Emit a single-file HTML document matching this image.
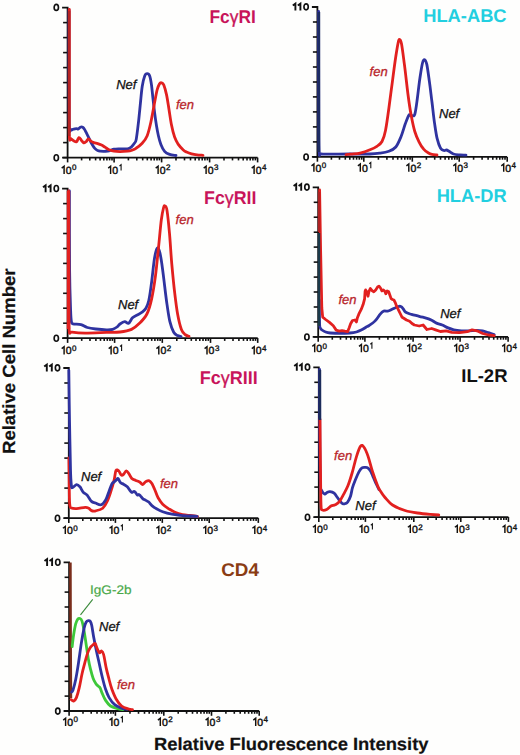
<!DOCTYPE html>
<html><head><meta charset="utf-8">
<style>
html,body{margin:0;padding:0;background:#fefefd;}
body{width:520px;height:755px;overflow:hidden;}
svg{display:block;}
.ax{fill:none;stroke:#111;stroke-width:1.8;}
.tk{fill:none;stroke:#111;stroke-width:1.6;}
text{font-family:"Liberation Sans", sans-serif;text-rendering:geometricPrecision;}
.xl{font-size:10.5px;fill:#111;stroke:#111;stroke-width:0.45px;}
.sup{font-size:8px;stroke-width:0.35px;}
.one{fill:none;stroke:#111;stroke-linejoin:miter;}
.yl{font-size:10.6px;font-weight:bold;fill:#111;text-anchor:end;stroke:#111;stroke-width:0.35px;}
.it{font-size:13px;font-style:italic;stroke-width:0.3px;}
.itn{font-size:12.5px;stroke-width:0.2px;}
.ti{font-size:18.4px;font-weight:bold;text-anchor:end;stroke-width:0px;}
.gam{font-weight:normal;stroke-width:0.3px;}
.big{font-size:17.6px;font-weight:bold;fill:#111;stroke:#111;stroke-width:0.2px;}
</style></head><body>
<svg width="520" height="755" viewBox="0 0 520 755">
<path d="M62.1 7.6H67.6V157.6" class="ax"/>
<path d="M63.1 22.6H67.6" class="tk"/>
<path d="M63.1 37.6H67.6" class="tk"/>
<path d="M63.1 52.6H67.6" class="tk"/>
<path d="M63.1 67.6H67.6" class="tk"/>
<path d="M63.1 82.6H67.6" class="tk"/>
<path d="M63.1 97.6H67.6" class="tk"/>
<path d="M63.1 112.6H67.6" class="tk"/>
<path d="M63.1 127.6H67.6" class="tk"/>
<path d="M63.1 142.6H67.6" class="tk"/>
<path d="M63.1 157.6H67.6" class="tk"/>
<path d="M62.1 157.6H257.6" class="ax"/>
<path d="M67.6 157.6V162.4" class="tk"/>
<path d="M81.6 157.6V160.4" class="tk"/>
<path d="M89.8 157.6V160.4" class="tk"/>
<path d="M95.6 157.6V160.4" class="tk"/>
<path d="M100.1 157.6V160.4" class="tk"/>
<path d="M103.8 157.6V160.4" class="tk"/>
<path d="M106.9 157.6V160.4" class="tk"/>
<path d="M109.6 157.6V160.4" class="tk"/>
<path d="M112.0 157.6V160.4" class="tk"/>
<path d="M61.70 168.10L64.10 166.20V173.90" class="one" stroke-width="1.45"/>
<text x="65.70" y="173.90" class="xl">0</text>
<text x="72.00" y="170.40" class="xl sup">0</text>
<path d="M114.1 157.6V162.4" class="tk"/>
<path d="M128.4 157.6V160.4" class="tk"/>
<path d="M136.8 157.6V160.4" class="tk"/>
<path d="M142.7 157.6V160.4" class="tk"/>
<path d="M147.3 157.6V160.4" class="tk"/>
<path d="M151.1 157.6V160.4" class="tk"/>
<path d="M154.2 157.6V160.4" class="tk"/>
<path d="M157.0 157.6V160.4" class="tk"/>
<path d="M159.4 157.6V160.4" class="tk"/>
<path d="M108.20 168.10L110.60 166.20V173.90" class="one" stroke-width="1.45"/>
<text x="112.20" y="173.90" class="xl">0</text>
<path d="M119.50 166.00L121.10 164.70V170.40" class="one" stroke-width="1.10"/>
<path d="M161.6 157.6V162.4" class="tk"/>
<path d="M176.0 157.6V160.4" class="tk"/>
<path d="M184.5 157.6V160.4" class="tk"/>
<path d="M190.5 157.6V160.4" class="tk"/>
<path d="M195.2 157.6V160.4" class="tk"/>
<path d="M199.0 157.6V160.4" class="tk"/>
<path d="M202.2 157.6V160.4" class="tk"/>
<path d="M204.9 157.6V160.4" class="tk"/>
<path d="M207.4 157.6V160.4" class="tk"/>
<path d="M155.70 168.10L158.10 166.20V173.90" class="one" stroke-width="1.45"/>
<text x="159.70" y="173.90" class="xl">0</text>
<text x="166.00" y="170.40" class="xl sup">2</text>
<path d="M209.6 157.6V162.4" class="tk"/>
<path d="M224.0 157.6V160.4" class="tk"/>
<path d="M232.5 157.6V160.4" class="tk"/>
<path d="M238.5 157.6V160.4" class="tk"/>
<path d="M243.2 157.6V160.4" class="tk"/>
<path d="M247.0 157.6V160.4" class="tk"/>
<path d="M250.2 157.6V160.4" class="tk"/>
<path d="M252.9 157.6V160.4" class="tk"/>
<path d="M255.4 157.6V160.4" class="tk"/>
<path d="M203.70 168.10L206.10 166.20V173.90" class="one" stroke-width="1.45"/>
<text x="207.70" y="173.90" class="xl">0</text>
<text x="214.00" y="170.40" class="xl sup">3</text>
<path d="M257.6 157.6V162.4" class="tk"/>
<path d="M251.70 168.10L254.10 166.20V173.90" class="one" stroke-width="1.45"/>
<text x="255.70" y="173.90" class="xl">0</text>
<text x="262.00" y="170.40" class="xl sup">4</text>
<ellipse cx="56.30" cy="7.40" rx="2.15" ry="3.0" fill="none" stroke="#111" stroke-width="1.65"/>
<ellipse cx="56.30" cy="157.70" rx="2.15" ry="3.0" fill="none" stroke="#111" stroke-width="1.65"/>
<path d="M69.0 10.0C69.0 28.3 68.9 100.1 69.2 120.0C69.5 139.9 70.0 127.9 70.7 129.4C71.4 130.9 72.6 129.2 73.6 129.1C74.6 129.0 75.7 128.7 76.5 128.7C77.3 128.7 77.8 129.2 78.4 129.0C79.0 128.8 79.6 127.5 80.3 127.2C81.0 126.9 82.0 126.8 82.7 127.2C83.4 127.6 84.0 128.4 84.7 129.6C85.4 130.8 86.3 132.8 87.1 134.4C87.9 136.0 88.7 137.6 89.5 139.2C90.3 140.8 91.0 142.5 91.9 144.0C92.8 145.5 93.8 147.3 94.8 148.4C95.8 149.5 96.8 150.1 97.7 150.6C98.7 151.1 99.4 151.1 100.5 151.2C101.6 151.3 103.0 151.4 104.4 151.3C105.9 151.2 107.6 151.2 109.2 150.8C110.8 150.5 112.2 149.5 114.0 149.2C115.8 148.9 117.8 148.9 120.0 148.8C122.2 148.7 125.6 149.1 127.5 148.8C129.4 148.5 130.4 147.7 131.5 146.8C132.6 145.9 133.4 144.7 134.2 143.5C135.0 142.3 135.5 143.1 136.2 139.5C136.9 135.9 137.8 128.0 138.5 122.0C139.2 116.0 139.8 109.2 140.4 103.3C141.0 97.4 141.5 91.0 142.2 86.5C142.9 82.0 143.9 78.1 144.7 76.0C145.5 73.9 146.4 73.7 147.2 73.7C148.0 73.7 149.0 74.1 149.7 76.0C150.4 77.9 151.0 81.5 151.5 85.0C152.0 88.5 152.3 92.3 152.8 97.0C153.3 101.7 154.1 108.5 154.7 113.3C155.3 118.1 155.9 122.0 156.5 125.7C157.1 129.4 157.7 132.6 158.4 135.7C159.1 138.8 159.9 141.8 160.9 144.4C161.9 147.0 163.2 149.6 164.6 151.3C166.0 153.0 167.7 153.7 169.6 154.4C171.5 155.1 174.9 155.3 176.0 155.5" fill="none" stroke="#2f33a0" stroke-width="2.8" stroke-linejoin="round" stroke-linecap="round"/>
<path d="M69.3 9.5C69.3 24.6 69.3 78.8 69.3 100.0C69.3 121.2 69.1 130.5 69.4 137.0C69.7 143.5 70.5 138.1 71.2 138.8C71.9 139.4 72.7 140.2 73.6 140.7C74.5 141.2 75.6 142.3 76.5 141.8C77.4 141.3 78.1 137.9 78.9 137.6C79.7 137.3 80.5 139.3 81.3 140.2C82.1 141.1 82.9 142.6 83.7 142.8C84.5 143.0 85.3 142.2 86.1 141.6C86.9 140.9 87.7 139.0 88.5 138.9C89.3 138.8 90.0 140.6 90.9 141.2C91.8 141.8 92.7 142.2 93.8 142.6C94.9 143.0 96.4 143.2 97.7 143.6C99.0 144.0 100.2 144.4 101.5 145.0C102.8 145.6 104.0 146.6 105.3 147.4C106.6 148.2 107.8 149.2 109.2 149.8C110.7 150.4 112.2 150.9 114.0 151.2C115.8 151.5 117.8 151.6 120.0 151.6C122.2 151.6 125.5 151.4 127.5 151.2C129.5 151.0 130.6 150.7 132.0 150.2C133.4 149.7 134.3 149.5 136.0 148.3C137.7 147.2 140.3 145.4 142.2 143.3C144.1 141.2 145.8 139.2 147.2 135.7C148.6 132.1 149.8 127.0 150.9 122.0C152.0 117.0 153.0 111.1 154.0 105.8C155.0 100.5 156.2 93.6 157.1 90.0C158.0 86.4 158.7 85.2 159.4 84.0C160.1 82.8 160.8 82.6 161.5 82.8C162.2 83.0 163.0 83.0 163.8 85.0C164.6 87.0 165.6 90.5 166.5 94.6C167.4 98.7 168.2 104.5 169.0 109.5C169.8 114.5 170.5 119.9 171.4 124.5C172.3 129.1 173.4 133.6 174.6 136.9C175.8 140.2 176.9 142.2 178.3 144.4C179.8 146.6 181.9 148.7 183.3 150.0C184.7 151.3 185.1 151.4 186.5 152.0C187.9 152.6 189.8 153.3 191.5 153.8C193.2 154.3 195.1 154.6 197.0 154.8C198.9 155.1 202.0 155.2 203.0 155.3" fill="none" stroke="#e2201f" stroke-width="2.8" stroke-linejoin="round" stroke-linecap="round"/>
<path d="M69.1 11V136" stroke="#b52424" stroke-width="2.4" fill="none"/>
<text x="116.2" y="88.6" class="it" fill="#111" stroke="#111">Nef</text>
<text x="176.0" y="109.0" class="it" fill="#b8242a" stroke="#b8242a">fen</text>
<text x="255.9" y="22.6" class="ti" fill="#c8145a" stroke="#c8145a" textLength="46.4" lengthAdjust="spacingAndGlyphs">Fc<tspan class="gam">&#947;</tspan>RI</text>
<path d="M311.9 7.0H317.4V156.9" class="ax"/>
<path d="M312.9 22.0H317.4" class="tk"/>
<path d="M312.9 37.0H317.4" class="tk"/>
<path d="M312.9 52.0H317.4" class="tk"/>
<path d="M312.9 67.0H317.4" class="tk"/>
<path d="M312.9 82.0H317.4" class="tk"/>
<path d="M312.9 96.9H317.4" class="tk"/>
<path d="M312.9 111.9H317.4" class="tk"/>
<path d="M312.9 126.9H317.4" class="tk"/>
<path d="M312.9 141.9H317.4" class="tk"/>
<path d="M312.9 156.9H317.4" class="tk"/>
<path d="M311.9 156.9H507.2" class="ax"/>
<path d="M317.4 156.9V161.7" class="tk"/>
<path d="M331.4 156.9V159.7" class="tk"/>
<path d="M339.5 156.9V159.7" class="tk"/>
<path d="M345.3 156.9V159.7" class="tk"/>
<path d="M349.8 156.9V159.7" class="tk"/>
<path d="M353.5 156.9V159.7" class="tk"/>
<path d="M356.6 156.9V159.7" class="tk"/>
<path d="M359.3 156.9V159.7" class="tk"/>
<path d="M361.7 156.9V159.7" class="tk"/>
<path d="M311.50 165.90L313.90 164.00V171.70" class="one" stroke-width="1.45"/>
<text x="315.50" y="171.70" class="xl">0</text>
<text x="321.80" y="168.20" class="xl sup">0</text>
<path d="M363.8 156.9V161.7" class="tk"/>
<path d="M378.4 156.9V159.7" class="tk"/>
<path d="M386.9 156.9V159.7" class="tk"/>
<path d="M393.0 156.9V159.7" class="tk"/>
<path d="M397.7 156.9V159.7" class="tk"/>
<path d="M401.5 156.9V159.7" class="tk"/>
<path d="M404.8 156.9V159.7" class="tk"/>
<path d="M407.6 156.9V159.7" class="tk"/>
<path d="M410.1 156.9V159.7" class="tk"/>
<path d="M357.90 165.90L360.30 164.00V171.70" class="one" stroke-width="1.45"/>
<text x="361.90" y="171.70" class="xl">0</text>
<path d="M369.20 163.80L370.80 162.50V168.20" class="one" stroke-width="1.10"/>
<path d="M412.3 156.9V161.7" class="tk"/>
<path d="M426.4 156.9V159.7" class="tk"/>
<path d="M434.7 156.9V159.7" class="tk"/>
<path d="M440.5 156.9V159.7" class="tk"/>
<path d="M445.1 156.9V159.7" class="tk"/>
<path d="M448.8 156.9V159.7" class="tk"/>
<path d="M451.9 156.9V159.7" class="tk"/>
<path d="M454.7 156.9V159.7" class="tk"/>
<path d="M457.1 156.9V159.7" class="tk"/>
<path d="M406.40 165.90L408.80 164.00V171.70" class="one" stroke-width="1.45"/>
<text x="410.40" y="171.70" class="xl">0</text>
<text x="416.70" y="168.20" class="xl sup">2</text>
<path d="M459.2 156.9V161.7" class="tk"/>
<path d="M473.6 156.9V159.7" class="tk"/>
<path d="M482.1 156.9V159.7" class="tk"/>
<path d="M488.1 156.9V159.7" class="tk"/>
<path d="M492.8 156.9V159.7" class="tk"/>
<path d="M496.6 156.9V159.7" class="tk"/>
<path d="M499.8 156.9V159.7" class="tk"/>
<path d="M502.5 156.9V159.7" class="tk"/>
<path d="M505.0 156.9V159.7" class="tk"/>
<path d="M453.30 165.90L455.70 164.00V171.70" class="one" stroke-width="1.45"/>
<text x="457.30" y="171.70" class="xl">0</text>
<text x="463.60" y="168.20" class="xl sup">3</text>
<path d="M507.2 156.9V161.7" class="tk"/>
<path d="M501.30 165.90L503.70 164.00V171.70" class="one" stroke-width="1.45"/>
<text x="505.30" y="171.70" class="xl">0</text>
<text x="511.60" y="168.20" class="xl sup">4</text>
<path d="M292.80 5.60L295.40 3.70V10.50" class="one" stroke-width="1.90"/>
<path d="M297.80 5.60L300.40 3.70V10.50" class="one" stroke-width="1.90"/>
<ellipse cx="306.10" cy="6.80" rx="2.15" ry="3.0" fill="none" stroke="#111" stroke-width="1.65"/>
<ellipse cx="306.10" cy="157.00" rx="2.15" ry="3.0" fill="none" stroke="#111" stroke-width="1.65"/>
<path d="M318.6 11.5C318.6 29.6 318.7 96.5 318.8 120.0C318.9 143.5 318.8 146.8 319.2 152.5C319.6 158.2 319.2 153.7 321.0 154.0C322.8 154.3 325.2 154.2 330.0 154.2C334.8 154.2 343.3 154.0 350.0 154.0C356.7 154.0 364.9 154.2 370.0 154.0C375.1 153.8 377.2 153.5 380.3 153.1C383.4 152.7 386.3 152.3 388.9 151.3C391.5 150.3 393.8 149.4 395.8 147.0C397.8 144.6 399.4 140.6 401.0 136.7C402.6 132.8 404.0 127.3 405.3 123.8C406.6 120.2 407.8 116.8 408.7 115.4C409.6 114.0 409.9 115.2 410.5 115.3C411.1 115.3 411.5 115.9 412.2 115.7C412.9 115.5 413.9 117.1 414.8 114.3C415.7 111.5 416.5 104.8 417.3 98.8C418.1 92.8 419.0 84.2 419.9 78.2C420.8 72.2 421.7 66.1 422.5 63.0C423.3 59.9 424.0 59.6 424.7 59.8C425.4 60.0 426.0 60.8 426.8 64.4C427.6 68.0 428.5 75.3 429.4 81.6C430.3 87.9 431.1 95.4 432.0 102.3C432.9 109.2 433.6 116.9 434.5 122.9C435.4 128.9 436.1 134.2 437.1 138.4C438.1 142.6 439.5 146.3 440.6 148.3C441.8 150.3 443.0 150.2 444.0 150.5C445.0 150.8 445.7 149.9 446.5 150.0C447.3 150.1 447.8 150.6 449.0 151.3C450.2 152.0 451.7 153.4 453.5 154.0C455.3 154.6 457.9 154.7 460.0 154.9C462.1 155.1 465.0 155.1 466.0 155.2" fill="none" stroke="#2f33a0" stroke-width="2.8" stroke-linejoin="round" stroke-linecap="round"/>
<path d="M318.9 12V152" stroke="#1c2c62" stroke-width="2.6" fill="none"/>
<path d="M346.0 154.6C347.0 154.5 349.7 154.3 352.0 154.1C354.3 153.9 357.0 153.9 360.0 153.2C363.0 152.5 367.2 151.0 370.0 149.8C372.8 148.7 374.9 147.7 376.9 146.3C378.9 144.9 380.6 144.1 382.0 141.5C383.4 138.9 384.4 136.1 385.5 130.5C386.6 124.9 387.8 116.2 388.9 108.0C390.0 99.8 391.2 90.2 392.4 81.6C393.5 73.0 394.8 63.0 395.8 56.5C396.8 50.0 397.6 45.3 398.2 42.5C398.8 39.7 399.1 39.4 399.6 39.6C400.2 39.8 400.7 39.7 401.5 43.8C402.3 47.9 403.3 56.1 404.4 64.4C405.5 72.7 406.8 85.1 407.9 93.7C409.0 102.3 410.1 109.7 411.3 116.0C412.5 122.3 413.5 127.2 414.8 131.5C416.1 135.8 417.6 139.0 419.0 141.9C420.4 144.8 421.8 147.0 423.4 148.8C425.0 150.7 427.1 152.1 428.5 153.0C429.9 153.9 430.6 154.1 432.0 154.4C433.4 154.7 436.2 154.9 437.0 155.0" fill="none" stroke="#e2201f" stroke-width="2.8" stroke-linejoin="round" stroke-linecap="round"/>
<text x="369.6" y="76.3" class="it" fill="#b8242a" stroke="#b8242a">fen</text>
<text x="439.0" y="117.5" class="it" fill="#111" stroke="#111">Nef</text>
<text x="506.6" y="21.5" class="ti" fill="#22cfe0" stroke="#22cfe0" textLength="83.4" lengthAdjust="spacingAndGlyphs">HLA-ABC</text>
<path d="M62.1 188.7H67.6V338.1" class="ax"/>
<path d="M63.1 203.6H67.6" class="tk"/>
<path d="M63.1 218.6H67.6" class="tk"/>
<path d="M63.1 233.5H67.6" class="tk"/>
<path d="M63.1 248.5H67.6" class="tk"/>
<path d="M63.1 263.4H67.6" class="tk"/>
<path d="M63.1 278.3H67.6" class="tk"/>
<path d="M63.1 293.3H67.6" class="tk"/>
<path d="M63.1 308.2H67.6" class="tk"/>
<path d="M63.1 323.2H67.6" class="tk"/>
<path d="M63.1 338.1H67.6" class="tk"/>
<path d="M62.1 338.1H257.7" class="ax"/>
<path d="M67.6 338.1V342.9" class="tk"/>
<path d="M81.7 338.1V340.9" class="tk"/>
<path d="M90.0 338.1V340.9" class="tk"/>
<path d="M95.9 338.1V340.9" class="tk"/>
<path d="M100.5 338.1V340.9" class="tk"/>
<path d="M104.2 338.1V340.9" class="tk"/>
<path d="M107.3 338.1V340.9" class="tk"/>
<path d="M110.0 338.1V340.9" class="tk"/>
<path d="M112.4 338.1V340.9" class="tk"/>
<path d="M61.70 348.60L64.10 346.70V354.40" class="one" stroke-width="1.45"/>
<text x="65.70" y="354.40" class="xl">0</text>
<text x="72.00" y="350.90" class="xl sup">0</text>
<path d="M114.6 338.1V342.9" class="tk"/>
<path d="M129.0 338.1V340.9" class="tk"/>
<path d="M137.4 338.1V340.9" class="tk"/>
<path d="M143.3 338.1V340.9" class="tk"/>
<path d="M147.9 338.1V340.9" class="tk"/>
<path d="M151.7 338.1V340.9" class="tk"/>
<path d="M154.9 338.1V340.9" class="tk"/>
<path d="M157.7 338.1V340.9" class="tk"/>
<path d="M160.1 338.1V340.9" class="tk"/>
<path d="M108.70 348.60L111.10 346.70V354.40" class="one" stroke-width="1.45"/>
<text x="112.70" y="354.40" class="xl">0</text>
<path d="M120.00 346.50L121.60 345.20V350.90" class="one" stroke-width="1.10"/>
<path d="M162.3 338.1V342.9" class="tk"/>
<path d="M176.8 338.1V340.9" class="tk"/>
<path d="M185.3 338.1V340.9" class="tk"/>
<path d="M191.3 338.1V340.9" class="tk"/>
<path d="M196.0 338.1V340.9" class="tk"/>
<path d="M199.8 338.1V340.9" class="tk"/>
<path d="M203.0 338.1V340.9" class="tk"/>
<path d="M205.8 338.1V340.9" class="tk"/>
<path d="M208.3 338.1V340.9" class="tk"/>
<path d="M156.40 348.60L158.80 346.70V354.40" class="one" stroke-width="1.45"/>
<text x="160.40" y="354.40" class="xl">0</text>
<text x="166.70" y="350.90" class="xl sup">2</text>
<path d="M210.5 338.1V342.9" class="tk"/>
<path d="M224.7 338.1V340.9" class="tk"/>
<path d="M233.0 338.1V340.9" class="tk"/>
<path d="M238.9 338.1V340.9" class="tk"/>
<path d="M243.5 338.1V340.9" class="tk"/>
<path d="M247.2 338.1V340.9" class="tk"/>
<path d="M250.4 338.1V340.9" class="tk"/>
<path d="M253.1 338.1V340.9" class="tk"/>
<path d="M255.5 338.1V340.9" class="tk"/>
<path d="M204.60 348.60L207.00 346.70V354.40" class="one" stroke-width="1.45"/>
<text x="208.60" y="354.40" class="xl">0</text>
<text x="214.90" y="350.90" class="xl sup">3</text>
<path d="M257.7 338.1V342.9" class="tk"/>
<path d="M251.80 348.60L254.20 346.70V354.40" class="one" stroke-width="1.45"/>
<text x="255.80" y="354.40" class="xl">0</text>
<text x="262.10" y="350.90" class="xl sup">4</text>
<path d="M43.00 187.30L45.60 185.40V192.20" class="one" stroke-width="1.90"/>
<path d="M48.00 187.30L50.60 185.40V192.20" class="one" stroke-width="1.90"/>
<ellipse cx="56.30" cy="188.50" rx="2.15" ry="3.0" fill="none" stroke="#111" stroke-width="1.65"/>
<ellipse cx="56.30" cy="338.20" rx="2.15" ry="3.0" fill="none" stroke="#111" stroke-width="1.65"/>
<path d="M69.4 191.0C69.4 204.2 69.4 250.2 69.6 270.0C69.8 289.8 70.3 301.4 70.6 310.0C70.9 318.6 71.0 319.2 71.4 321.5C71.8 323.8 71.4 323.4 73.0 323.9C74.6 324.4 78.6 324.0 81.0 324.6C83.4 325.2 84.8 326.8 87.3 327.5C89.8 328.2 92.6 328.6 95.8 329.0C99.0 329.4 103.6 329.8 106.4 329.8C109.2 329.9 110.9 329.8 112.7 329.3C114.5 328.8 115.8 327.9 117.0 327.0C118.2 326.1 118.7 324.9 120.0 324.0C121.3 323.1 123.4 321.8 124.8 321.7C126.2 321.6 127.3 323.9 128.6 323.3C129.9 322.7 131.1 319.2 132.5 317.8C133.9 316.4 135.7 315.9 137.3 315.0C138.9 314.1 140.7 313.2 142.1 312.1C143.5 311.0 144.8 310.1 145.9 308.2C147.0 306.3 147.8 305.1 148.8 300.6C149.8 296.1 150.8 288.4 151.7 281.4C152.6 274.3 153.6 263.8 154.5 258.3C155.4 252.8 156.4 249.6 157.2 248.3C158.0 247.0 158.6 248.7 159.3 250.7C160.0 252.7 160.5 255.2 161.3 260.3C162.1 265.4 163.2 274.0 164.1 281.4C165.0 288.8 166.0 297.7 167.0 304.4C168.0 311.1 168.8 317.1 169.9 321.7C171.0 326.3 172.4 329.9 173.7 332.2C175.0 334.5 176.3 334.8 177.5 335.5C178.7 336.2 180.4 336.3 181.0 336.5" fill="none" stroke="#2f33a0" stroke-width="2.8" stroke-linejoin="round" stroke-linecap="round"/>
<path d="M68.6 191.0C68.6 209.2 68.7 276.8 68.8 300.0C68.9 323.2 68.7 325.1 69.2 330.5C69.7 335.9 69.3 331.8 72.0 332.2C74.7 332.6 79.5 333.1 85.2 333.1C90.9 333.1 100.6 332.6 106.4 332.4C112.2 332.2 115.8 332.5 120.0 332.0C124.2 331.5 128.3 330.8 131.5 329.4C134.7 328.0 136.6 326.2 139.2 323.6C141.8 321.0 144.8 318.2 146.9 314.0C149.0 309.8 150.3 305.0 151.7 298.6C153.1 292.2 154.4 283.9 155.5 275.6C156.6 267.3 157.4 258.0 158.4 248.7C159.4 239.4 160.4 226.9 161.3 220.0C162.2 213.1 163.0 209.8 163.6 207.5C164.2 205.2 164.5 205.5 165.1 206.0C165.7 206.5 166.3 205.8 167.0 210.4C167.7 215.0 168.7 224.4 169.5 233.4C170.3 242.4 170.9 254.2 171.8 264.1C172.7 274.0 173.7 284.6 174.7 292.9C175.7 301.2 176.5 307.9 177.6 314.0C178.7 320.1 180.1 326.0 181.4 329.4C182.7 332.8 183.9 333.5 185.2 334.6C186.5 335.8 188.4 336.0 189.0 336.3" fill="none" stroke="#e2201f" stroke-width="2.8" stroke-linejoin="round" stroke-linecap="round"/>
<path d="M68.5 191V329" stroke="#e2201f" stroke-width="3.4" fill="none"/>
<text x="118.0" y="309.0" class="it" fill="#111" stroke="#111">Nef</text>
<text x="175.6" y="223.5" class="it" fill="#b8242a" stroke="#b8242a">fen</text>
<text x="256.5" y="203.6" class="ti" fill="#c8145a" stroke="#c8145a" textLength="52.4" lengthAdjust="spacingAndGlyphs">Fc<tspan class="gam">&#947;</tspan>RII</text>
<path d="M312.7 187.3H318.2V336.9" class="ax"/>
<path d="M313.7 202.3H318.2" class="tk"/>
<path d="M313.7 217.2H318.2" class="tk"/>
<path d="M313.7 232.2H318.2" class="tk"/>
<path d="M313.7 247.1H318.2" class="tk"/>
<path d="M313.7 262.1H318.2" class="tk"/>
<path d="M313.7 277.1H318.2" class="tk"/>
<path d="M313.7 292.0H318.2" class="tk"/>
<path d="M313.7 307.0H318.2" class="tk"/>
<path d="M313.7 321.9H318.2" class="tk"/>
<path d="M313.7 336.9H318.2" class="tk"/>
<path d="M312.7 336.9H508.1" class="ax"/>
<path d="M318.2 336.9V341.7" class="tk"/>
<path d="M332.3 336.9V339.7" class="tk"/>
<path d="M340.5 336.9V339.7" class="tk"/>
<path d="M346.3 336.9V339.7" class="tk"/>
<path d="M350.8 336.9V339.7" class="tk"/>
<path d="M354.5 336.9V339.7" class="tk"/>
<path d="M357.7 336.9V339.7" class="tk"/>
<path d="M360.4 336.9V339.7" class="tk"/>
<path d="M362.8 336.9V339.7" class="tk"/>
<path d="M312.30 346.40L314.70 344.50V352.20" class="one" stroke-width="1.45"/>
<text x="316.30" y="352.20" class="xl">0</text>
<text x="322.60" y="348.70" class="xl sup">0</text>
<path d="M364.9 336.9V341.7" class="tk"/>
<path d="M379.4 336.9V339.7" class="tk"/>
<path d="M387.9 336.9V339.7" class="tk"/>
<path d="M393.9 336.9V339.7" class="tk"/>
<path d="M398.6 336.9V339.7" class="tk"/>
<path d="M402.4 336.9V339.7" class="tk"/>
<path d="M405.6 336.9V339.7" class="tk"/>
<path d="M408.4 336.9V339.7" class="tk"/>
<path d="M410.9 336.9V339.7" class="tk"/>
<path d="M359.00 346.40L361.40 344.50V352.20" class="one" stroke-width="1.45"/>
<text x="363.00" y="352.20" class="xl">0</text>
<path d="M370.30 344.30L371.90 343.00V348.70" class="one" stroke-width="1.10"/>
<path d="M413.1 336.9V341.7" class="tk"/>
<path d="M427.2 336.9V339.7" class="tk"/>
<path d="M435.5 336.9V339.7" class="tk"/>
<path d="M441.4 336.9V339.7" class="tk"/>
<path d="M446.0 336.9V339.7" class="tk"/>
<path d="M449.7 336.9V339.7" class="tk"/>
<path d="M452.8 336.9V339.7" class="tk"/>
<path d="M455.5 336.9V339.7" class="tk"/>
<path d="M457.9 336.9V339.7" class="tk"/>
<path d="M407.20 346.40L409.60 344.50V352.20" class="one" stroke-width="1.45"/>
<text x="411.20" y="352.20" class="xl">0</text>
<text x="417.50" y="348.70" class="xl sup">2</text>
<path d="M460.1 336.9V341.7" class="tk"/>
<path d="M474.5 336.9V339.7" class="tk"/>
<path d="M483.0 336.9V339.7" class="tk"/>
<path d="M489.0 336.9V339.7" class="tk"/>
<path d="M493.7 336.9V339.7" class="tk"/>
<path d="M497.5 336.9V339.7" class="tk"/>
<path d="M500.7 336.9V339.7" class="tk"/>
<path d="M503.4 336.9V339.7" class="tk"/>
<path d="M505.9 336.9V339.7" class="tk"/>
<path d="M454.20 346.40L456.60 344.50V352.20" class="one" stroke-width="1.45"/>
<text x="458.20" y="352.20" class="xl">0</text>
<text x="464.50" y="348.70" class="xl sup">3</text>
<path d="M508.1 336.9V341.7" class="tk"/>
<path d="M502.20 346.40L504.60 344.50V352.20" class="one" stroke-width="1.45"/>
<text x="506.20" y="352.20" class="xl">0</text>
<text x="512.50" y="348.70" class="xl sup">4</text>
<path d="M293.60 185.90L296.20 184.00V190.80" class="one" stroke-width="1.90"/>
<path d="M298.60 185.90L301.20 184.00V190.80" class="one" stroke-width="1.90"/>
<ellipse cx="306.90" cy="187.10" rx="2.15" ry="3.0" fill="none" stroke="#111" stroke-width="1.65"/>
<ellipse cx="306.90" cy="337.00" rx="2.15" ry="3.0" fill="none" stroke="#111" stroke-width="1.65"/>
<path d="M319.2 300.0C319.3 304.0 319.4 319.2 319.6 324.0C319.8 328.8 320.2 327.5 320.6 328.5C321.0 329.5 321.2 329.4 322.0 330.0C322.8 330.6 324.2 331.5 325.6 332.0C327.0 332.5 328.0 332.8 330.4 333.0C332.8 333.2 336.8 333.4 340.0 333.4C343.2 333.4 347.0 333.2 349.7 333.0C352.4 332.8 354.5 332.5 356.4 332.0C358.3 331.5 359.6 330.9 361.2 330.1C362.8 329.3 364.7 328.0 366.0 327.2C367.3 326.4 367.5 326.6 369.1 325.5C370.7 324.4 373.6 322.5 375.4 320.6C377.2 318.8 378.6 316.0 380.0 314.4C381.4 312.8 382.5 311.7 383.8 311.1C385.1 310.6 386.4 311.4 387.7 311.1C389.0 310.9 390.2 310.2 391.5 309.6C392.8 309.0 394.1 308.2 395.4 307.7C396.7 307.1 398.2 306.5 399.2 306.3C400.2 306.1 400.5 306.3 401.2 306.7C401.9 307.1 402.3 307.8 403.1 308.7C403.9 309.6 404.4 311.4 405.8 312.3C407.2 313.2 409.3 313.7 411.5 314.4C413.7 315.1 416.6 315.6 419.2 316.3C421.8 317.0 424.8 317.7 426.9 318.3C429.0 318.9 430.1 319.4 431.7 320.2C433.3 321.0 434.7 322.3 436.5 323.1C438.3 323.9 440.4 324.2 442.3 325.0C444.2 325.8 446.2 327.1 448.1 327.9C450.0 328.7 451.6 329.3 453.8 329.8C456.0 330.3 458.9 330.6 461.5 330.8C464.1 331.0 466.6 330.9 469.2 330.8C471.8 330.7 474.6 330.4 476.9 330.4C479.1 330.4 480.8 330.4 482.7 330.8C484.6 331.2 486.6 332.1 488.5 332.7C490.4 333.3 493.2 334.3 494.2 334.6" fill="none" stroke="#2f33a0" stroke-width="2.8" stroke-linejoin="round" stroke-linecap="round"/>
<path d="M319.6 190.0L320.6 250.0L321.8 308.0L322.7 317.1L325.6 319.5L329.5 322.4L333.3 325.8L336.2 330.1L339.1 331.1L342.0 330.6L344.8 331.1L347.7 331.5L349.2 327.7L350.6 323.8L352.5 320.5L354.9 320.0L356.4 321.9L357.3 318.1L358.8 314.2L361.2 309.4L363.1 304.6L364.6 298.8L365.1 291.3L365.6 289.9L367.0 292.3L368.0 296.2L369.0 291.3L370.4 288.5L372.3 290.9L373.8 291.8L375.7 289.9L377.6 287.0L379.0 286.1L380.5 288.0L381.9 290.9L383.4 289.9L384.8 291.3L385.8 293.8L387.2 290.9L388.7 291.8L390.1 295.7L391.1 298.6L392.5 299.5L393.9 300.0L395.4 302.9L396.8 306.7L398.3 309.6L400.2 313.5L402.1 317.3L403.8 318.3L406.5 320.0L409.6 321.2L412.0 323.5L414.4 325.0L419.2 326.0L423.1 325.0L426.9 329.5L431.7 328.5L435.6 329.8L440.4 331.5L446.2 330.8L451.9 332.3L459.6 332.7L467.3 331.7L472.1 329.8L476.9 330.8L482.7 333.5L488.5 335.0L494.2 335.6" fill="none" stroke="#e2201f" stroke-width="2.8" stroke-linejoin="round" stroke-linecap="round"/>
<path d="M319.0 192V232" stroke="#b02222" stroke-width="2.4" fill="none"/>
<path d="M319.0 233V326" stroke="#1b3a4a" stroke-width="2.4" fill="none"/>
<text x="338.4" y="303.6" class="it" fill="#b8242a" stroke="#b8242a">fen</text>
<text x="440.2" y="318.2" class="it" fill="#111" stroke="#111">Nef</text>
<text x="506.6" y="202.1" class="ti" fill="#22cfe0" stroke="#22cfe0" textLength="69.9" lengthAdjust="spacingAndGlyphs">HLA-DR</text>
<path d="M63.3 368.0H68.8V518.1" class="ax"/>
<path d="M64.3 383.0H68.8" class="tk"/>
<path d="M64.3 398.0H68.8" class="tk"/>
<path d="M64.3 413.0H68.8" class="tk"/>
<path d="M64.3 428.0H68.8" class="tk"/>
<path d="M64.3 443.1H68.8" class="tk"/>
<path d="M64.3 458.1H68.8" class="tk"/>
<path d="M64.3 473.1H68.8" class="tk"/>
<path d="M64.3 488.1H68.8" class="tk"/>
<path d="M64.3 503.1H68.8" class="tk"/>
<path d="M64.3 518.1H68.8" class="tk"/>
<path d="M63.3 518.1H258.3" class="ax"/>
<path d="M68.8 518.1V522.9" class="tk"/>
<path d="M82.8 518.1V520.9" class="tk"/>
<path d="M91.0 518.1V520.9" class="tk"/>
<path d="M96.9 518.1V520.9" class="tk"/>
<path d="M101.4 518.1V520.9" class="tk"/>
<path d="M105.1 518.1V520.9" class="tk"/>
<path d="M108.2 518.1V520.9" class="tk"/>
<path d="M110.9 518.1V520.9" class="tk"/>
<path d="M113.3 518.1V520.9" class="tk"/>
<path d="M62.90 528.30L65.30 526.40V534.10" class="one" stroke-width="1.45"/>
<text x="66.90" y="534.10" class="xl">0</text>
<text x="73.20" y="530.60" class="xl sup">0</text>
<path d="M115.4 518.1V522.9" class="tk"/>
<path d="M129.5 518.1V520.9" class="tk"/>
<path d="M137.8 518.1V520.9" class="tk"/>
<path d="M143.6 518.1V520.9" class="tk"/>
<path d="M148.2 518.1V520.9" class="tk"/>
<path d="M151.9 518.1V520.9" class="tk"/>
<path d="M155.0 518.1V520.9" class="tk"/>
<path d="M157.8 518.1V520.9" class="tk"/>
<path d="M160.2 518.1V520.9" class="tk"/>
<path d="M109.50 528.30L111.90 526.40V534.10" class="one" stroke-width="1.45"/>
<text x="113.50" y="534.10" class="xl">0</text>
<path d="M120.80 526.20L122.40 524.90V530.60" class="one" stroke-width="1.10"/>
<path d="M162.3 518.1V522.9" class="tk"/>
<path d="M176.4 518.1V520.9" class="tk"/>
<path d="M184.7 518.1V520.9" class="tk"/>
<path d="M190.5 518.1V520.9" class="tk"/>
<path d="M195.1 518.1V520.9" class="tk"/>
<path d="M198.8 518.1V520.9" class="tk"/>
<path d="M201.9 518.1V520.9" class="tk"/>
<path d="M204.7 518.1V520.9" class="tk"/>
<path d="M207.1 518.1V520.9" class="tk"/>
<path d="M156.40 528.30L158.80 526.40V534.10" class="one" stroke-width="1.45"/>
<text x="160.40" y="534.10" class="xl">0</text>
<text x="166.70" y="530.60" class="xl sup">2</text>
<path d="M209.2 518.1V522.9" class="tk"/>
<path d="M224.0 518.1V520.9" class="tk"/>
<path d="M232.6 518.1V520.9" class="tk"/>
<path d="M238.8 518.1V520.9" class="tk"/>
<path d="M243.5 518.1V520.9" class="tk"/>
<path d="M247.4 518.1V520.9" class="tk"/>
<path d="M250.7 518.1V520.9" class="tk"/>
<path d="M253.5 518.1V520.9" class="tk"/>
<path d="M256.1 518.1V520.9" class="tk"/>
<path d="M203.30 528.30L205.70 526.40V534.10" class="one" stroke-width="1.45"/>
<text x="207.30" y="534.10" class="xl">0</text>
<text x="213.60" y="530.60" class="xl sup">3</text>
<path d="M258.3 518.1V522.9" class="tk"/>
<path d="M252.40 528.30L254.80 526.40V534.10" class="one" stroke-width="1.45"/>
<text x="256.40" y="534.10" class="xl">0</text>
<text x="262.70" y="530.60" class="xl sup">4</text>
<path d="M44.20 366.60L46.80 364.70V371.50" class="one" stroke-width="1.90"/>
<path d="M49.20 366.60L51.80 364.70V371.50" class="one" stroke-width="1.90"/>
<ellipse cx="57.50" cy="367.80" rx="2.15" ry="3.0" fill="none" stroke="#111" stroke-width="1.65"/>
<ellipse cx="57.50" cy="518.20" rx="2.15" ry="3.0" fill="none" stroke="#111" stroke-width="1.65"/>
<path d="M68.9 458.0C69.0 463.3 69.2 482.2 69.3 490.0C69.4 497.8 69.4 502.0 69.8 505.0C70.2 508.0 70.2 507.4 71.4 508.0C72.6 508.6 74.4 508.7 76.7 508.6C79.0 508.5 83.2 507.5 85.2 507.4C87.2 507.3 87.4 507.5 88.4 508.0C89.5 508.5 90.3 510.1 91.5 510.6C92.7 511.1 93.9 511.2 95.8 510.8C97.7 510.4 100.8 509.8 102.7 508.2C104.6 506.6 105.9 504.2 107.3 501.2C108.7 498.2 110.0 494.0 111.2 490.4C112.4 486.8 113.4 482.9 114.2 479.6C115.0 476.3 115.2 471.9 116.0 470.5C116.8 469.1 117.9 470.2 118.8 471.0C119.7 471.8 120.4 474.4 121.2 475.0C122.0 475.6 122.7 475.1 123.5 474.4C124.3 473.7 125.4 470.9 126.3 470.8C127.2 470.7 127.9 472.2 128.8 473.5C129.7 474.8 130.7 477.5 131.9 478.6C133.1 479.8 134.5 479.8 135.8 480.4C137.1 481.0 138.4 481.3 139.6 482.0C140.8 482.7 141.7 484.6 142.7 484.5C143.7 484.4 144.8 482.2 145.8 481.6C146.8 481.0 147.8 480.3 148.8 480.6C149.8 480.9 150.9 481.9 151.9 483.5C152.9 485.1 154.0 487.8 155.0 490.2C156.0 492.6 156.8 495.5 158.1 497.8C159.4 500.1 160.9 502.4 162.7 504.2C164.5 506.0 166.8 507.5 168.8 508.8C170.9 510.1 172.7 511.3 175.0 512.2C177.3 513.2 180.0 514.0 182.5 514.5C185.0 515.0 187.5 515.2 190.0 515.5C192.5 515.8 196.2 516.2 197.5 516.3" fill="none" stroke="#e2201f" stroke-width="2.8" stroke-linejoin="round" stroke-linecap="round"/>
<path d="M68.8 370.3C68.9 378.6 69.2 403.4 69.5 420.0C69.8 436.6 70.2 459.1 70.5 470.0C70.8 480.9 71.1 482.6 71.4 485.5C71.7 488.4 71.6 487.7 72.5 487.6C73.4 487.5 75.5 484.8 76.7 484.7C77.9 484.6 78.8 485.6 79.9 486.8C81.0 488.0 81.9 490.7 83.1 492.1C84.3 493.5 85.9 493.8 87.3 495.3C88.7 496.9 90.1 500.1 91.5 501.4C92.9 502.7 93.9 502.4 95.5 503.0C97.1 503.6 99.5 505.4 101.2 504.8C102.9 504.2 104.5 501.8 105.8 499.6C107.1 497.5 107.8 494.5 108.8 491.9C109.8 489.3 111.0 485.5 111.9 483.8C112.8 482.1 113.4 482.6 114.2 481.9C115.0 481.2 115.9 480.4 116.5 479.8C117.1 479.2 117.3 478.1 118.0 478.5C118.7 478.9 119.5 481.6 120.4 482.5C121.3 483.4 122.3 483.5 123.5 484.2C124.7 484.9 126.2 485.8 127.3 486.8C128.4 487.9 129.2 489.6 130.0 490.5C130.8 491.4 131.2 492.3 131.9 492.5C132.6 492.7 133.4 491.5 134.0 491.5C134.6 491.5 134.9 491.9 135.5 492.5C136.1 493.1 136.7 494.7 137.3 495.0C137.9 495.3 138.5 494.4 139.0 494.5C139.5 494.6 139.8 495.1 140.4 495.8C141.0 496.5 141.8 497.8 142.7 498.6C143.6 499.4 144.8 499.8 145.8 500.4C146.8 501.0 147.8 501.1 148.8 502.0C149.8 502.9 150.6 504.5 151.9 505.6C153.2 506.7 154.7 507.8 156.5 508.8C158.3 509.8 160.1 510.8 162.7 511.7C165.3 512.6 169.0 513.6 171.9 514.2C174.8 514.8 177.0 515.0 180.0 515.3C183.0 515.6 187.2 515.8 190.0 516.0C192.8 516.2 195.8 516.3 197.0 516.4" fill="none" stroke="#2f33a0" stroke-width="2.8" stroke-linejoin="round" stroke-linecap="round"/>
<text x="81.0" y="480.5" class="it" fill="#111" stroke="#111">Nef</text>
<text x="160.0" y="488.0" class="it" fill="#b8242a" stroke="#b8242a">fen</text>
<text x="257.9" y="383.8" class="ti" fill="#c8145a" stroke="#c8145a" textLength="58.1" lengthAdjust="spacingAndGlyphs">Fc<tspan class="gam">&#947;</tspan>RIII</text>
<path d="M313.3 367.3H318.8V517.1" class="ax"/>
<path d="M314.3 382.3H318.8" class="tk"/>
<path d="M314.3 397.3H318.8" class="tk"/>
<path d="M314.3 412.2H318.8" class="tk"/>
<path d="M314.3 427.2H318.8" class="tk"/>
<path d="M314.3 442.2H318.8" class="tk"/>
<path d="M314.3 457.2H318.8" class="tk"/>
<path d="M314.3 472.2H318.8" class="tk"/>
<path d="M314.3 487.1H318.8" class="tk"/>
<path d="M314.3 502.1H318.8" class="tk"/>
<path d="M314.3 517.1H318.8" class="tk"/>
<path d="M313.3 517.1H508.4" class="ax"/>
<path d="M318.8 517.1V521.9" class="tk"/>
<path d="M332.8 517.1V519.9" class="tk"/>
<path d="M341.0 517.1V519.9" class="tk"/>
<path d="M346.9 517.1V519.9" class="tk"/>
<path d="M351.4 517.1V519.9" class="tk"/>
<path d="M355.1 517.1V519.9" class="tk"/>
<path d="M358.2 517.1V519.9" class="tk"/>
<path d="M360.9 517.1V519.9" class="tk"/>
<path d="M363.3 517.1V519.9" class="tk"/>
<path d="M312.90 527.30L315.30 525.40V533.10" class="one" stroke-width="1.45"/>
<text x="316.90" y="533.10" class="xl">0</text>
<text x="323.20" y="529.60" class="xl sup">0</text>
<path d="M365.4 517.1V521.9" class="tk"/>
<path d="M380.0 517.1V519.9" class="tk"/>
<path d="M388.5 517.1V519.9" class="tk"/>
<path d="M394.5 517.1V519.9" class="tk"/>
<path d="M399.2 517.1V519.9" class="tk"/>
<path d="M403.1 517.1V519.9" class="tk"/>
<path d="M406.3 517.1V519.9" class="tk"/>
<path d="M409.1 517.1V519.9" class="tk"/>
<path d="M411.6 517.1V519.9" class="tk"/>
<path d="M359.50 527.30L361.90 525.40V533.10" class="one" stroke-width="1.45"/>
<text x="363.50" y="533.10" class="xl">0</text>
<path d="M370.80 525.20L372.40 523.90V529.60" class="one" stroke-width="1.10"/>
<path d="M413.8 517.1V521.9" class="tk"/>
<path d="M427.9 517.1V519.9" class="tk"/>
<path d="M436.2 517.1V519.9" class="tk"/>
<path d="M442.1 517.1V519.9" class="tk"/>
<path d="M446.7 517.1V519.9" class="tk"/>
<path d="M450.4 517.1V519.9" class="tk"/>
<path d="M453.5 517.1V519.9" class="tk"/>
<path d="M456.2 517.1V519.9" class="tk"/>
<path d="M458.6 517.1V519.9" class="tk"/>
<path d="M407.90 527.30L410.30 525.40V533.10" class="one" stroke-width="1.45"/>
<text x="411.90" y="533.10" class="xl">0</text>
<text x="418.20" y="529.60" class="xl sup">2</text>
<path d="M460.8 517.1V521.9" class="tk"/>
<path d="M475.1 517.1V519.9" class="tk"/>
<path d="M483.5 517.1V519.9" class="tk"/>
<path d="M489.5 517.1V519.9" class="tk"/>
<path d="M494.1 517.1V519.9" class="tk"/>
<path d="M497.8 517.1V519.9" class="tk"/>
<path d="M501.0 517.1V519.9" class="tk"/>
<path d="M503.8 517.1V519.9" class="tk"/>
<path d="M506.2 517.1V519.9" class="tk"/>
<path d="M454.90 527.30L457.30 525.40V533.10" class="one" stroke-width="1.45"/>
<text x="458.90" y="533.10" class="xl">0</text>
<text x="465.20" y="529.60" class="xl sup">3</text>
<path d="M508.4 517.1V521.9" class="tk"/>
<path d="M502.50 527.30L504.90 525.40V533.10" class="one" stroke-width="1.45"/>
<text x="506.50" y="533.10" class="xl">0</text>
<text x="512.80" y="529.60" class="xl sup">4</text>
<path d="M294.20 365.90L296.80 364.00V370.80" class="one" stroke-width="1.90"/>
<path d="M299.20 365.90L301.80 364.00V370.80" class="one" stroke-width="1.90"/>
<ellipse cx="307.50" cy="367.10" rx="2.15" ry="3.0" fill="none" stroke="#111" stroke-width="1.65"/>
<ellipse cx="307.50" cy="517.20" rx="2.15" ry="3.0" fill="none" stroke="#111" stroke-width="1.65"/>
<path d="M319.6 369.5C319.6 381.2 319.7 420.8 319.8 440.0C319.9 459.2 320.1 476.7 320.4 485.0C320.7 493.3 320.7 488.5 321.4 490.0C322.1 491.5 323.7 493.6 324.6 494.0C325.5 494.4 326.1 492.9 327.0 492.5C327.9 492.1 328.7 491.6 329.9 491.7C331.1 491.8 332.9 492.2 334.1 493.2C335.3 494.1 336.2 496.0 337.3 497.4C338.4 498.8 339.6 500.6 340.5 501.7C341.4 502.8 342.0 503.5 342.8 503.8C343.6 504.1 344.7 503.8 345.5 503.5C346.3 503.2 346.9 503.2 347.7 502.0C348.5 500.8 349.7 498.7 350.5 496.3C351.3 493.9 351.7 490.4 352.5 487.7C353.3 485.0 354.2 482.7 355.3 480.0C356.4 477.3 358.1 473.3 359.2 471.3C360.3 469.3 361.0 468.5 362.0 467.8C363.0 467.1 364.0 467.3 365.0 467.3C366.0 467.3 366.9 467.1 367.8 467.8C368.8 468.5 369.7 469.6 370.7 471.3C371.7 473.0 372.6 475.8 373.6 478.0C374.6 480.2 375.6 482.6 376.5 484.5C377.4 486.4 378.6 488.7 379.0 489.5" fill="none" stroke="#2f33a0" stroke-width="2.8" stroke-linejoin="round" stroke-linecap="round"/>
<path d="M320.0 419.3C320.1 427.8 320.3 455.7 320.5 470.0C320.7 484.3 320.7 498.3 321.0 505.0C321.3 511.7 321.6 509.2 322.5 510.0C323.4 510.8 325.3 510.2 326.7 509.5C328.1 508.8 329.6 506.8 331.0 506.0C332.4 505.2 333.8 505.5 335.2 504.8C336.6 504.1 338.0 503.5 339.4 501.7C340.8 499.9 342.3 496.8 343.7 494.2C345.1 491.6 346.5 489.3 347.9 485.8C349.3 482.3 350.7 477.8 352.1 473.0C353.5 468.2 355.0 461.3 356.4 456.8C357.8 452.3 359.4 447.8 360.6 446.2C361.8 444.6 362.6 445.4 363.8 447.0C365.0 448.6 366.6 452.1 368.0 456.1C369.4 460.1 370.7 465.9 372.3 470.9C373.9 475.8 376.3 482.5 377.6 485.8C378.9 489.1 378.8 488.6 380.0 490.5C381.2 492.4 382.9 495.1 385.0 497.5C387.1 499.9 389.2 502.8 392.5 505.0C395.8 507.2 400.8 509.2 405.0 510.5C409.2 511.8 413.3 512.4 417.5 513.0C421.7 513.6 426.4 514.0 430.0 514.3C433.6 514.6 437.3 514.9 438.8 515.0" fill="none" stroke="#e2201f" stroke-width="2.8" stroke-linejoin="round" stroke-linecap="round"/>
<path d="M319.9 370V420" stroke="#1c2c5a" stroke-width="2.6" fill="none"/>
<text x="334.1" y="460.3" class="it" fill="#b8242a" stroke="#b8242a">fen</text>
<text x="355.3" y="510.1" class="it" fill="#111" stroke="#111">Nef</text>
<text x="507.5" y="381.5" class="ti" fill="#111" stroke="#111" textLength="46.2" lengthAdjust="spacingAndGlyphs">IL-2R</text>
<path d="M63.6 562.4H69.1V711.0" class="ax"/>
<path d="M64.6 577.3H69.1" class="tk"/>
<path d="M64.6 592.1H69.1" class="tk"/>
<path d="M64.6 607.0H69.1" class="tk"/>
<path d="M64.6 621.8H69.1" class="tk"/>
<path d="M64.6 636.7H69.1" class="tk"/>
<path d="M64.6 651.6H69.1" class="tk"/>
<path d="M64.6 666.4H69.1" class="tk"/>
<path d="M64.6 681.3H69.1" class="tk"/>
<path d="M64.6 696.1H69.1" class="tk"/>
<path d="M64.6 711.0H69.1" class="tk"/>
<path d="M63.6 711.0H259.2" class="ax"/>
<path d="M69.1 711.0V715.8" class="tk"/>
<path d="M83.0 711.0V713.8" class="tk"/>
<path d="M91.2 711.0V713.8" class="tk"/>
<path d="M97.0 711.0V713.8" class="tk"/>
<path d="M101.5 711.0V713.8" class="tk"/>
<path d="M105.1 711.0V713.8" class="tk"/>
<path d="M108.2 711.0V713.8" class="tk"/>
<path d="M110.9 711.0V713.8" class="tk"/>
<path d="M113.3 711.0V713.8" class="tk"/>
<path d="M63.20 720.10L65.60 718.20V725.90" class="one" stroke-width="1.45"/>
<text x="67.20" y="725.90" class="xl">0</text>
<text x="73.50" y="722.40" class="xl sup">0</text>
<path d="M115.4 711.0V715.8" class="tk"/>
<path d="M130.0 711.0V713.8" class="tk"/>
<path d="M138.5 711.0V713.8" class="tk"/>
<path d="M144.5 711.0V713.8" class="tk"/>
<path d="M149.2 711.0V713.8" class="tk"/>
<path d="M153.1 711.0V713.8" class="tk"/>
<path d="M156.3 711.0V713.8" class="tk"/>
<path d="M159.1 711.0V713.8" class="tk"/>
<path d="M161.6 711.0V713.8" class="tk"/>
<path d="M109.50 720.10L111.90 718.20V725.90" class="one" stroke-width="1.45"/>
<text x="113.50" y="725.90" class="xl">0</text>
<path d="M120.80 718.00L122.40 716.70V722.40" class="one" stroke-width="1.10"/>
<path d="M163.8 711.0V715.8" class="tk"/>
<path d="M178.2 711.0V713.8" class="tk"/>
<path d="M186.6 711.0V713.8" class="tk"/>
<path d="M192.5 711.0V713.8" class="tk"/>
<path d="M197.1 711.0V713.8" class="tk"/>
<path d="M200.9 711.0V713.8" class="tk"/>
<path d="M204.1 711.0V713.8" class="tk"/>
<path d="M206.9 711.0V713.8" class="tk"/>
<path d="M209.3 711.0V713.8" class="tk"/>
<path d="M157.90 720.10L160.30 718.20V725.90" class="one" stroke-width="1.45"/>
<text x="161.90" y="725.90" class="xl">0</text>
<text x="168.20" y="722.40" class="xl sup">2</text>
<path d="M211.5 711.0V715.8" class="tk"/>
<path d="M225.9 711.0V713.8" class="tk"/>
<path d="M234.3 711.0V713.8" class="tk"/>
<path d="M240.2 711.0V713.8" class="tk"/>
<path d="M244.8 711.0V713.8" class="tk"/>
<path d="M248.6 711.0V713.8" class="tk"/>
<path d="M251.8 711.0V713.8" class="tk"/>
<path d="M254.6 711.0V713.8" class="tk"/>
<path d="M257.0 711.0V713.8" class="tk"/>
<path d="M205.60 720.10L208.00 718.20V725.90" class="one" stroke-width="1.45"/>
<text x="209.60" y="725.90" class="xl">0</text>
<text x="215.90" y="722.40" class="xl sup">3</text>
<path d="M259.2 711.0V715.8" class="tk"/>
<path d="M253.30 720.10L255.70 718.20V725.90" class="one" stroke-width="1.45"/>
<text x="257.30" y="725.90" class="xl">0</text>
<text x="263.60" y="722.40" class="xl sup">4</text>
<path d="M44.50 561.00L47.10 559.10V565.90" class="one" stroke-width="1.90"/>
<path d="M49.50 561.00L52.10 559.10V565.90" class="one" stroke-width="1.90"/>
<ellipse cx="57.80" cy="562.20" rx="2.15" ry="3.0" fill="none" stroke="#111" stroke-width="1.65"/>
<ellipse cx="57.80" cy="711.10" rx="2.15" ry="3.0" fill="none" stroke="#111" stroke-width="1.65"/>
<path d="M70.4 562.6L70.6 640L70.9 698" fill="none" stroke="#7a2e1c" stroke-width="2.6"/>
<path d="M72.2 646.5C72.4 644.6 73.0 638.8 73.6 635.0C74.2 631.2 75.0 626.5 75.7 623.9C76.4 621.3 77.1 620.1 77.8 619.2C78.5 618.3 79.2 618.2 79.9 618.5C80.6 618.8 81.3 619.0 82.0 621.1C82.7 623.2 83.4 627.0 84.1 630.9C84.8 634.8 85.5 640.2 86.2 644.8C86.9 649.4 87.6 654.8 88.3 658.7C89.0 662.6 89.5 665.1 90.3 668.4C91.1 671.6 92.2 675.7 93.1 678.2C94.0 680.8 95.0 682.3 95.9 683.7C96.8 685.1 98.0 685.8 98.7 686.5C99.4 687.2 99.5 686.8 100.1 687.9C100.7 689.0 101.3 691.3 102.2 693.4C103.1 695.5 104.2 698.3 105.6 700.4C107.0 702.5 108.5 704.6 110.5 706.0C112.5 707.4 115.4 708.1 117.5 708.7C119.6 709.3 122.1 709.5 123.0 709.6" fill="none" stroke="#3ec83a" stroke-width="2.8" stroke-linejoin="round" stroke-linecap="round"/>
<path d="M71.6 692.0C71.8 691.7 72.3 692.1 73.0 690.0C73.7 687.9 74.8 684.0 75.7 679.5C76.6 675.0 77.6 668.9 78.5 662.9C79.4 656.9 80.4 649.2 81.3 643.4C82.2 637.6 83.3 631.7 84.1 628.1C84.9 624.5 85.5 623.2 86.2 622.0C86.9 620.8 87.6 620.7 88.3 620.6C89.0 620.5 89.7 620.5 90.3 621.3C90.9 622.1 91.1 622.5 91.7 625.3C92.3 628.0 93.0 633.4 93.8 637.8C94.6 642.2 95.7 647.3 96.6 651.7C97.5 656.1 98.5 660.0 99.4 664.2C100.3 668.4 101.2 672.6 102.2 676.8C103.2 681.0 104.4 685.8 105.6 689.3C106.8 692.8 107.6 695.0 109.1 697.6C110.6 700.2 112.6 702.9 114.7 704.6C116.8 706.4 119.5 707.3 121.6 708.1C123.6 708.9 126.1 709.2 127.0 709.4" fill="none" stroke="#2f33a0" stroke-width="2.8" stroke-linejoin="round" stroke-linecap="round"/>
<path d="M71.0 699.5C71.4 699.8 72.7 701.4 73.6 701.1C74.5 700.8 75.5 699.8 76.4 697.6C77.3 695.4 78.3 691.8 79.2 687.9C80.1 684.0 81.1 678.2 82.0 674.0C82.9 669.8 83.9 666.4 84.8 662.9C85.7 659.4 86.7 655.6 87.6 653.1C88.5 650.6 89.4 649.0 90.3 647.6C91.2 646.2 92.3 645.5 93.1 644.8C93.9 644.1 94.5 642.9 95.2 643.6C95.9 644.3 96.6 647.4 97.3 648.9C98.0 650.4 98.7 652.4 99.4 652.8C100.1 653.1 100.8 650.7 101.5 651.0C102.2 651.3 102.8 651.6 103.6 654.5C104.4 657.4 105.4 664.2 106.3 668.4C107.2 672.6 108.2 676.0 109.1 679.5C110.0 683.0 110.7 686.0 111.9 689.3C113.1 692.5 114.5 696.2 116.1 699.0C117.7 701.8 119.5 704.3 121.6 706.0C123.7 707.7 126.8 708.4 128.6 709.0C130.4 709.6 131.8 709.5 132.5 709.6" fill="none" stroke="#e2201f" stroke-width="2.8" stroke-linejoin="round" stroke-linecap="round"/>
<path d="M80.5 614.8L92.7 599.3" fill="none" stroke="#3a8a3a" stroke-width="1.1"/>
<text x="90.0" y="594.4" class="itn" fill="#48a848" stroke="#48a848" textLength="41.5" lengthAdjust="spacingAndGlyphs">IgG-2b</text>
<text x="99.0" y="631.3" class="it" fill="#111" stroke="#111">Nef</text>
<text x="117.0" y="688.5" class="it" fill="#b8242a" stroke="#b8242a">fen</text>
<text x="258.9" y="575.8" class="ti" fill="#8a3c14" stroke="#8a3c14" textLength="37.7" lengthAdjust="spacingAndGlyphs">CD4</text>
<text x="154" y="749.8" class="big" textLength="274.5" lengthAdjust="spacingAndGlyphs">Relative Fluorescence Intensity</text>
<text transform="translate(15.0 454.0) rotate(-90)" class="big" textLength="185.5" lengthAdjust="spacingAndGlyphs">Relative Cell Number</text>
</svg>
</body></html>
